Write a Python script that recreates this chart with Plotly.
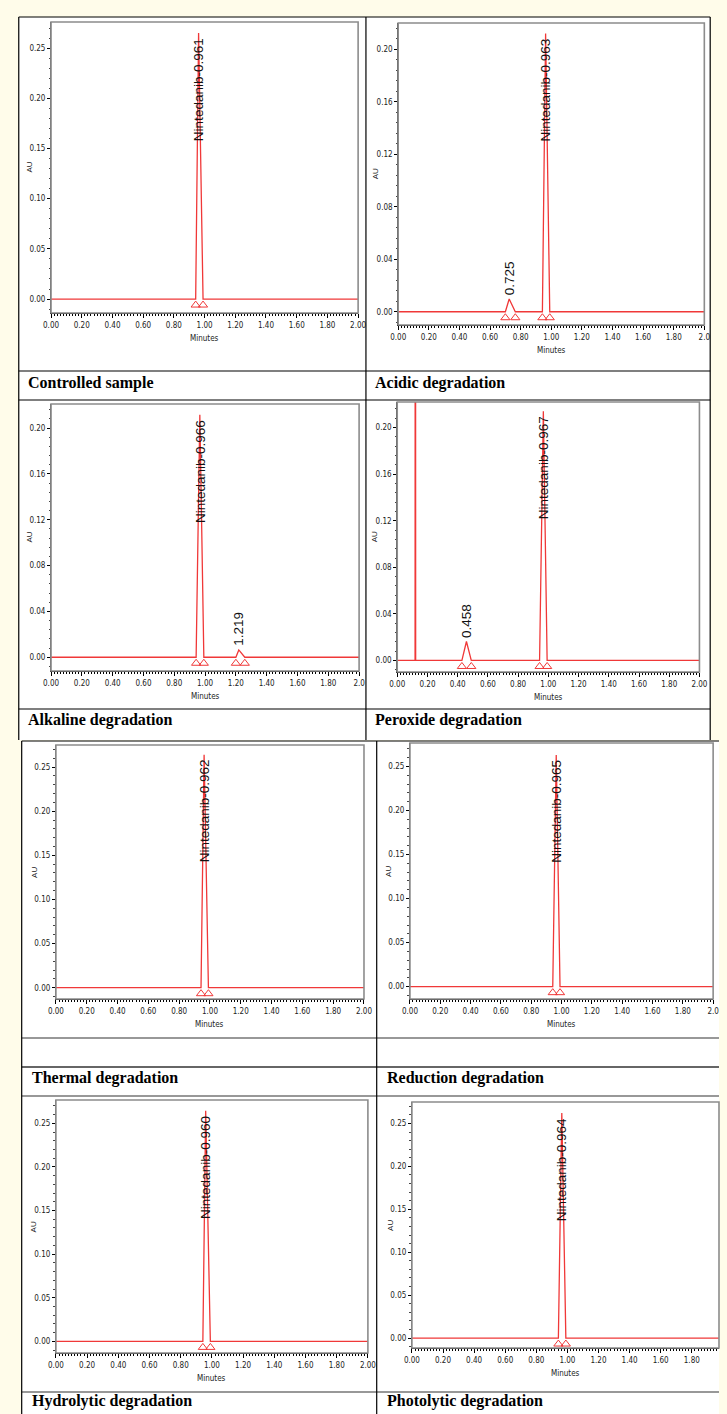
import plotly.graph_objects as go

W, H = 727, 1414

# ---------------- data ----------------
captions = ["Controlled sample", "Acidic degradation", "Alkaline degradation",
            "Peroxide degradation", "Thermal degradation", "Reduction degradation",
            "Hydrolytic degradation", "Photolytic degradation"]
main_name = "Nintedanib"
main_rt = [0.961, 0.963, 0.966, 0.967, 0.962, 0.965, 0.960, 0.964]
main_height = [0.265, 0.212, 0.2116, 0.214, 0.264, 0.263, 0.2644, 0.2623]
main_start = [0.942, 0.942, 0.942, 0.942, 0.942, 0.942, 0.942, 0.942]
main_end = [0.990, 0.990, 0.992, 0.992, 0.990, 0.990, 0.990, 0.990]

minor_panel = [1, 2, 3]
minor_rt = [0.725, 1.219, 0.458]
minor_height = [0.0097, 0.0064, 0.0163]
minor_start = [0.700, 1.200, 0.428]
minor_end = [0.765, 1.258, 0.490]

front_panel = [3]
front_rt = [0.120]
front_height = [1.0]

x_ticks = [0.0, 0.2, 0.4, 0.6, 0.8, 1.0, 1.2, 1.4, 1.6, 1.8, 2.0]
x_tick_labels = ["0.00", "0.20", "0.40", "0.60", "0.80", "1.00",
                 "1.20", "1.40", "1.60", "1.80", "2.00"]
x_last_label = ["2.00", "2.0", "2.0", "2.00", "2.00", "2.0", "2.00", "2.00"]
y_major = [0.05, 0.04, 0.04, 0.04, 0.05, 0.05, 0.05, 0.05]
run_end = 2.0

# ---------------- layout geometry (pixels) ----------------
boxes = [(44, 22, 358, 313), (399, 23, 712, 325),
         (44, 404, 359, 671), (398, 402, 707, 672),
         (49, 745, 364, 999), (411, 743, 721, 999),
         (49, 1100, 368, 1353), (413, 1102, 727, 1348)]
y_ranges = [(-0.0139, 0.276), (-0.0101, 0.220), (-0.012, 0.221), (-0.0099, 0.222),
            (-0.0128, 0.275), (-0.014, 0.2766), (-0.0133, 0.2767), (-0.0116, 0.275)]
x_max = [2.0, 2.0, 2.0, 2.0, 2.0, 2.0, 2.0, 1.975]
caption_pos = [(18, 383), (373, 383), (18, 720), (373, 720),
               (22, 1078), (385, 1078), (22, 1401), (385, 1401)]

RED = "#F03838"
CREAM = "#FFFCEA"
NARROW = "Liberation Sans Narrow, DejaVu Sans Condensed, Arial Narrow, sans-serif"
SANS = "Liberation Sans, Arial, sans-serif"
SERIF = "Liberation Serif, DejaVu Serif, serif"


def px(x):
    return x / W


def py(y):
    return 1 - y / H


fig = go.Figure()
layout = dict(width=W, height=H, margin=dict(l=0, r=0, t=0, b=0),
              paper_bgcolor=CREAM, plot_bgcolor="white", showlegend=False)
shapes = []
annotations = []

# table cells (white) and borders
shapes.append(dict(type="rect", xref="paper", yref="paper", layer="below",
                   x0=px(11), x1=px(718), y0=py(740), y1=py(17),
                   fillcolor="white", line=dict(width=0)))
shapes.append(dict(type="rect", xref="paper", yref="paper", layer="below",
                   x0=px(14), x1=px(727), y0=py(1414), y1=py(741),
                   fillcolor="white", line=dict(width=0)))


def hline(y, x0, x1, color="black", width=1.2):
    shapes.append(dict(type="line", xref="paper", yref="paper",
                       x0=px(x0), x1=px(x1), y0=py(y), y1=py(y),
                       line=dict(color=color, width=width)))


def vline(x, y0, y1, color="black", width=1.2):
    shapes.append(dict(type="line", xref="paper", yref="paper",
                       x0=px(x), x1=px(x), y0=py(y0), y1=py(y1),
                       line=dict(color=color, width=width)))


for yy in (17, 371, 400, 709):
    hline(yy, 11, 718)
for xx in (11, 366, 718):
    vline(xx, 17, 740)
for yy, c, w in ((741, "black", 1.2), (1038, "#333", 1.2), (1067, "#666", 2),
                 (1096, "#333", 1.2), (1392, "#333", 1.2)):
    hline(yy, 14, 727, c, w)
for xx in (14, 377):
    vline(xx, 741, 1414)

for i in range(8):
    suf = "" if i == 0 else str(i + 1)
    xa, ya = "x" + suf, "y" + suf
    L, T, R, B = boxes[i]
    y0, y1 = y_ranges[i]
    ppu = (B - T) / (y1 - y0)

    peaks = [(main_start[i], main_rt[i], main_end[i], main_height[i])]
    marks = [main_start[i], main_end[i]]
    for j, p in enumerate(minor_panel):
        if p == i:
            peaks.append((minor_start[j], minor_rt[j], minor_end[j], minor_height[j]))
            marks += [minor_start[j], minor_end[j]]
    for j, p in enumerate(front_panel):
        if p == i:
            peaks.append((front_rt[j] - 0.002, front_rt[j], front_rt[j] + 0.002, front_height[j]))
    peaks.sort(key=lambda t: t[1])
    xs, ys = [0.0], [0.0]
    for s, r, e, h in peaks:
        xs += [s, r, e]
        ys += [0.0, h, 0.0]
    xs.append(run_end)
    ys.append(0.0)

    fig.add_trace(go.Scatter(x=xs, y=ys, xaxis=xa, yaxis=ya, mode="lines",
                             line=dict(color=RED, width=1.3), hoverinfo="skip"))
    mk_y = -6.0 / ppu
    fig.add_trace(go.Scatter(x=marks, y=[mk_y] * len(marks), xaxis=xa, yaxis=ya,
                             mode="markers",
                             marker=dict(symbol="triangle-up-open", size=8,
                                         color=RED, line=dict(width=1, color=RED)),
                             hoverinfo="skip"))

    ticktext = x_tick_labels[:-1] + [x_last_label[i]]
    layout["xaxis" + suf] = dict(
        domain=[px(L), px(R)], range=[0, x_max[i]], anchor=ya,
        showline=True, linecolor="black", linewidth=1, mirror=False,
        ticks="outside", ticklen=4, tickcolor="black", tickwidth=1,
        tickvals=x_ticks, ticktext=ticktext,
        tickfont=dict(family=NARROW, size=8, color="#222"),
        showgrid=False, zeroline=False, fixedrange=True,
        minor=dict(ticks="outside", ticklen=2, dtick=0.02, tick0=0,
                   tickcolor="black", showgrid=False))
    layout["yaxis" + suf] = dict(
        domain=[py(B), py(T)], range=[y0, y1], anchor=xa,
        showline=True, linecolor="#555", linewidth=1,
        ticks="outside", ticklen=3, tickcolor="black", tickwidth=1,
        dtick=y_major[i], tick0=0, tickformat=".2f",
        tickfont=dict(family=NARROW, size=8, color="#222"),
        showgrid=False, zeroline=False, fixedrange=True,
        minor=dict(ticks="outside", ticklen=1.5, dtick=(0.01 if y_major[i] == 0.05 else 0.008),
                   tick0=0, tickcolor="#444", showgrid=False))

    # plot frame
    shapes.append(dict(type="rect", xref=xa + " domain", yref=ya + " domain",
                       x0=0, x1=1, y0=0, y1=1, line=dict(color="#8c8c8c", width=1.6)))

    # axis titles
    annotations.append(dict(text="AU", xref=xa + " domain", yref=ya + " domain",
                            x=0, y=0.5, xshift=-22, xanchor="center", yanchor="middle",
                            textangle=-90, showarrow=False,
                            font=dict(family=SANS, size=8, color="#222")))
    annotations.append(dict(text="Minutes", xref=xa + " domain", yref=ya + " domain",
                            x=0.5, y=0, yshift=-25, xanchor="center", yanchor="middle",
                            showarrow=False,
                            font=dict(family=NARROW, size=8, color="#222")))

    # peak labels
    annotations.append(dict(text=f"{main_name}-{main_rt[i]:.3f}", xref=xa, yref=ya,
                            x=main_rt[i], y=main_height[i], yshift=-3,
                            xanchor="center", yanchor="top", textangle=-90,
                            showarrow=False,
                            font=dict(family=SANS, size=13.5, color="#111")))
    for j, p in enumerate(minor_panel):
        if p == i:
            annotations.append(dict(text=f"{minor_rt[j]:.3f}", xref=xa, yref=ya,
                                    x=minor_rt[j], y=minor_height[j], yshift=2,
                                    xanchor="center", yanchor="bottom", textangle=-90,
                                    showarrow=False,
                                    font=dict(family=SANS, size=13.5, color="#111")))

    # caption
    cx, cy = caption_pos[i]
    annotations.append(dict(text=f"<b>{captions[i]}</b>", xref="paper", yref="paper",
                            x=px(cx), y=py(cy), xanchor="left", yanchor="middle",
                            showarrow=False,
                            font=dict(family=SERIF, size=16, color="black")))

layout["shapes"] = shapes
layout["annotations"] = annotations
fig.update_layout(**layout)
fig.write_html("out.html", config={"displayModeBar": False},
               post_script="document.body.style.margin='0';document.body.style.overflow='hidden';")
